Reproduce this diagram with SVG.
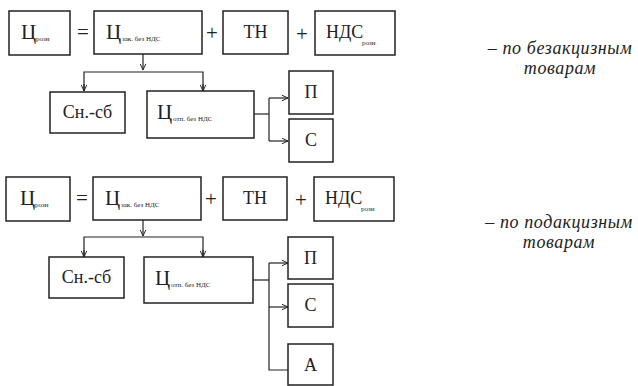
<svg xmlns="http://www.w3.org/2000/svg" width="638" height="386" viewBox="0 0 638 386">
<defs>
<style>
.b{fill:#fff;stroke:#222;stroke-width:1.5}
.t{font-family:'Liberation Serif','Times New Roman',Times,'DejaVu Serif',serif;fill:#222}
.m{font-size:21px}
.s{font-size:7px}
.l{font-size:18px}
.c{fill:none;stroke:#222;stroke-width:1.2}
.n{font-family:'Liberation Serif','Times New Roman',Times,'DejaVu Serif',serif;font-style:italic;font-size:18px;fill:#222;text-anchor:middle;letter-spacing:0.6px}
</style>
<marker id="a" viewBox="0 0 8 8" refX="7.5" refY="4" markerWidth="7" markerHeight="7" markerUnits="userSpaceOnUse" orient="auto">
<path d="M0.5,0.8 L7.5,4 L0.5,7.2" fill="none" stroke="#222" stroke-width="1.1"/>
</marker>
</defs>
<g id="connectors">
<path class="c" d="M143,54 V70" marker-end="url(#a)"/>
<path class="c" d="M84,91 V72 H203 V91" />
<path class="c" d="M84,84 V91" marker-end="url(#a)"/>
<path class="c" d="M203,84 V91" marker-end="url(#a)"/>
<path class="c" d="M254,114 H269"/>
<path class="c" d="M269,98 V141"/>
<path class="c" d="M269,98 H288" marker-end="url(#a)"/>
<path class="c" d="M269,141 H288" marker-end="url(#a)"/>
<path class="c" d="M143,220 V236" marker-end="url(#a)"/>
<path class="c" d="M84,257 V237 H203 V257"/>
<path class="c" d="M84,250 V257" marker-end="url(#a)"/>
<path class="c" d="M203,250 V257" marker-end="url(#a)"/>
<path class="c" d="M253,280 H269"/>
<path class="c" d="M269,263 V370 H288"/>
<path class="c" d="M269,263 H288" marker-end="url(#a)"/>
<path class="c" d="M269,307 H288" marker-end="url(#a)"/>
</g>
<g id="ops" class="t">
<text x="83" y="39" class="m" text-anchor="middle">=</text>
<text x="212" y="40" class="m" text-anchor="middle">+</text>
<text x="302" y="41" class="m" text-anchor="middle">+</text>
<text x="82" y="205" class="m" text-anchor="middle">=</text>
<text x="211" y="206" class="m" text-anchor="middle">+</text>
<text x="301" y="207" class="m" text-anchor="middle">+</text>
</g>
<g id="n1">
<rect class="b" x="9" y="11" width="61" height="44"/>
<text class="t m" x="21" y="39">Ц</text><text class="t s" x="36" y="41">розн</text>
</g>
<g id="n2">
<rect class="b" x="94" y="11" width="108" height="43"/>
<text class="t m" x="106" y="39">Ц</text><text class="t s" x="122" y="41">зак. без НДС</text>
</g>
<g id="n3">
<rect class="b" x="223" y="11" width="65" height="43"/>
<text class="t l" x="255.5" y="38" text-anchor="middle">ТН</text>
</g>
<g id="n4">
<rect class="b" x="315" y="11" width="80" height="44"/>
<text class="t l" x="326" y="38">НДС</text><text class="t s" x="362" y="45">розн</text>
</g>
<g id="n5">
<rect class="b" x="50" y="92" width="75" height="41"/>
<text class="t l" x="87.5" y="118" text-anchor="middle">Сн.-сб</text>
</g>
<g id="n6">
<rect class="b" x="147" y="91" width="107" height="47"/>
<text class="t m" x="157" y="119">Ц</text><text class="t s" x="173" y="121">отп. без НДС</text>
</g>
<g id="n7">
<rect class="b" x="289" y="71" width="44" height="43"/>
<text class="t l" x="311" y="98" text-anchor="middle">П</text>
</g>
<g id="n8">
<rect class="b" x="289" y="119" width="44" height="43"/>
<text class="t l" x="311" y="146" text-anchor="middle">С</text>
</g>
<g id="n9">
<rect class="b" x="6" y="177" width="64" height="44"/>
<text class="t m" x="20" y="205">Ц</text><text class="t s" x="35" y="207">розн</text>
</g>
<g id="n10">
<rect class="b" x="93" y="177" width="108" height="43"/>
<text class="t m" x="105" y="205">Ц</text><text class="t s" x="121" y="207">зак. без НДС</text>
</g>
<g id="n11">
<rect class="b" x="223" y="177" width="64" height="43"/>
<text class="t l" x="255" y="204" text-anchor="middle">ТН</text>
</g>
<g id="n12">
<rect class="b" x="314" y="177" width="80" height="44"/>
<text class="t l" x="325" y="204">НДС</text><text class="t s" x="361" y="211">розн</text>
</g>
<g id="n13">
<rect class="b" x="49" y="257" width="75" height="41"/>
<text class="t l" x="86.5" y="283" text-anchor="middle">Сн.-сб</text>
</g>
<g id="n14">
<rect class="b" x="144" y="257" width="109" height="46"/>
<text class="t m" x="155" y="285">Ц</text><text class="t s" x="171" y="287">отп. без НДС</text>
</g>
<g id="n15">
<rect class="b" x="288" y="237" width="45" height="42"/>
<text class="t l" x="310.5" y="264" text-anchor="middle">П</text>
</g>
<g id="n16">
<rect class="b" x="288" y="284" width="45" height="43"/>
<text class="t l" x="310.5" y="311" text-anchor="middle">С</text>
</g>
<g id="n17">
<rect class="b" x="288" y="344" width="45" height="41"/>
<text class="t l" x="310.5" y="371" text-anchor="middle">А</text>
</g>
<g id="notes">
<text class="n" x="560" y="54">– по безакцизным</text>
<text class="n" x="560" y="74">товарам</text>
<text class="n" x="559" y="228">– по подакцизным</text>
<text class="n" x="559" y="248">товарам</text>
</g>
</svg>
